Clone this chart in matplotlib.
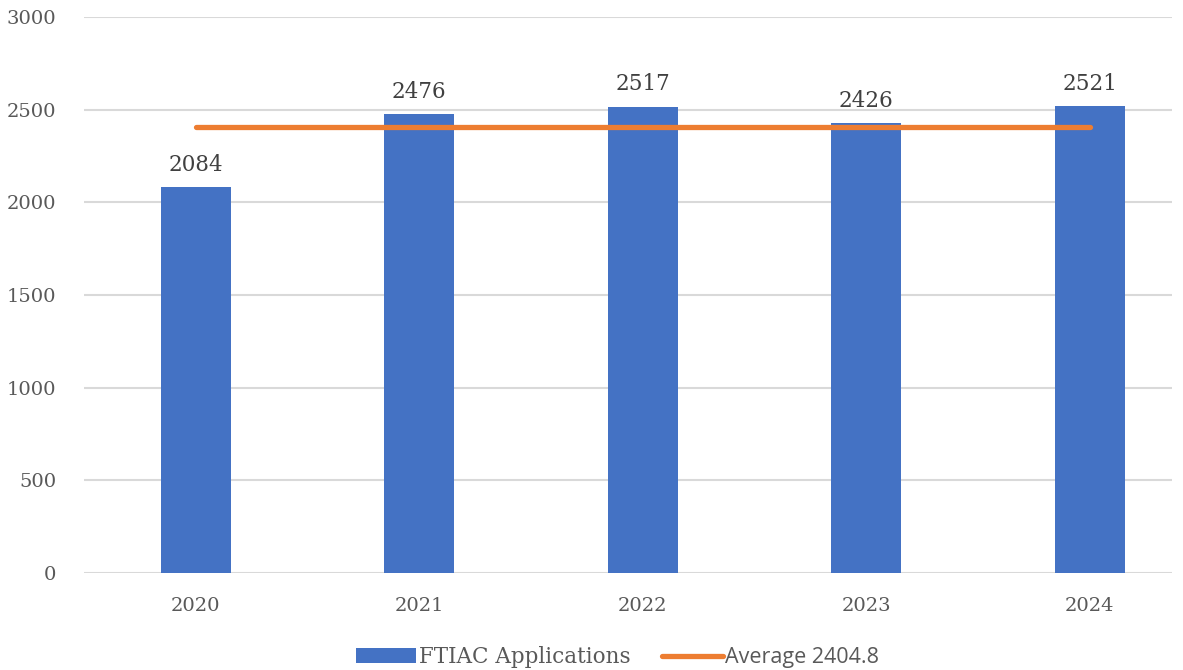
import matplotlib
matplotlib.use("Agg")
import matplotlib.pyplot as plt
import numpy as np

years = ["2020", "2021", "2022", "2023", "2024"]
applications = [2084, 2476, 2517, 2426, 2521]
average = 2404.8
y_ticks = [0, 500, 1000, 1500, 2000, 2500, 3000]

bar_color = "#4472C4"
avg_color = "#ED7D31"

fig = plt.figure(figsize=(11.83, 6.70), dpi=100)
ax = fig.add_axes([0.071, 0.1448, 0.9197, 0.8298])

x = np.arange(len(years))
bars = ax.bar(x, applications, width=0.313, color=bar_color, zorder=2,
              label="FTIAC Applications")
avg_line, = ax.plot(x, [average] * len(years), color=avg_color, linewidth=3.8,
                    solid_capstyle="round", zorder=3, label=f"Average {average}")

for xi, v in zip(x, applications):
    ax.annotate(str(v), (xi, v), xytext=(0, 8), textcoords="offset points",
                ha="center", va="bottom", fontsize=15.5, color="#404040",
                family="DejaVu Serif")

ax.set_xlim(-0.5, 4.368)
ax.set_ylim(0, 3000)
ax.set_yticks(y_ticks)
ax.set_xticks(x)
ax.set_xticklabels(years)
ax.tick_params(axis="both", length=0, labelsize=14, labelcolor="#595959")
ax.tick_params(axis="x", pad=17)
ax.tick_params(axis="y", pad=20)
for lbl in ax.get_xticklabels() + ax.get_yticklabels():
    lbl.set_family("DejaVu Serif")

ax.grid(axis="y", color="#D9D9D9", linewidth=1.5, zorder=0)
ax.set_axisbelow(True)
for spine in ax.spines.values():
    spine.set_visible(False)

leg = fig.legend(handles=[bars, avg_line], loc="lower center",
                 bbox_to_anchor=(0.522, -0.026), ncol=2, frameon=False,
                 fontsize=15.5, handlelength=2.8, handletextpad=0.1,
                 columnspacing=1.5)
texts = leg.get_texts()
texts[0].set_family("DejaVu Serif")
texts[1].set_family("Open Sans")
for t in texts:
    t.set_color("#595959")

fig.savefig("out.png", dpi=100)
